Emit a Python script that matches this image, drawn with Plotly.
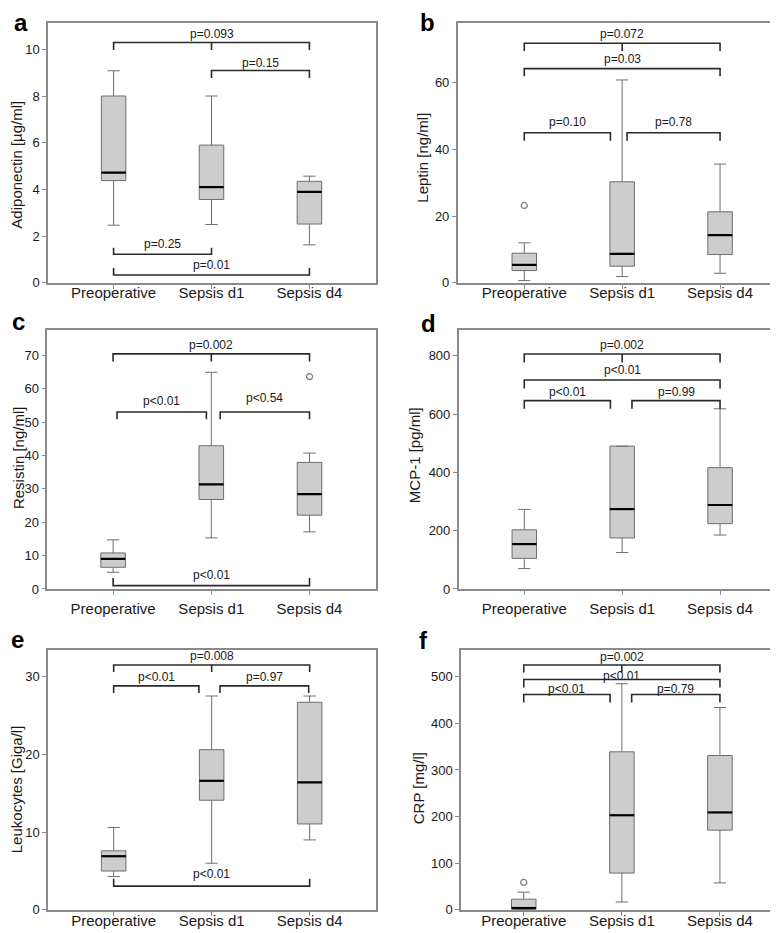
import plotly.graph_objects as go

# ---------------- data ----------------
categories = ["Preoperative", "Sepsis d1", "Sepsis d4"]
xpos = [0, 1, 2]

# Adiponectin [µg/ml]
adipo_low = [2.47, 2.50, 1.63]
adipo_q1 = [4.38, 3.57, 2.52]
adipo_med = [4.72, 4.10, 3.90]
adipo_q3 = [8.00, 5.90, 4.35]
adipo_high = [9.08, 8.00, 4.57]
adipo_out_x = []
adipo_out_y = []

# Leptin [ng/ml]
leptin_low = [0.7, 1.9, 2.9]
leptin_q1 = [3.7, 5.0, 8.5]
leptin_med = [5.4, 8.7, 14.3]
leptin_q3 = [8.9, 30.3, 21.3]
leptin_high = [12.0, 60.8, 35.6]
leptin_out_x = [0]
leptin_out_y = [23.2]

# Resistin [ng/ml]
resistin_low = [5.0, 15.3, 17.1]
resistin_q1 = [6.5, 26.8, 22.1]
resistin_med = [9.0, 31.3, 28.4]
resistin_q3 = [10.8, 42.9, 37.9]
resistin_high = [14.7, 64.9, 40.7]
resistin_out_x = [2]
resistin_out_y = [63.6]

# MCP-1 [pg/ml]
mcp_low = [70, 125, 185]
mcp_q1 = [105, 175, 224]
mcp_med = [154, 274, 288]
mcp_q3 = [203, 490, 416]
mcp_high = [273, 490, 618]
mcp_out_x = []
mcp_out_y = []

# Leukocytes [Giga/l]
leuko_low = [4.3, 6.0, 9.0]
leuko_q1 = [5.0, 14.1, 11.05]
leuko_med = [6.9, 16.6, 16.4]
leuko_q3 = [7.6, 20.6, 26.7]
leuko_high = [10.6, 27.5, 27.5]
leuko_out_x = []
leuko_out_y = []

# CRP [mg/l]
crp_low = [0.0, 17, 58]
crp_q1 = [1.4, 79, 171]
crp_med = [4.0, 203, 209]
crp_q3 = [23, 339, 331]
crp_high = [38, 485, 434]
crp_out_x = [0]
crp_out_y = [59]

# brackets: (x start, x end, line y, tip y, centre tick, label, label y)
adipo_brackets = [
    (0, 2, 10.29, 9.97, True, "p=0.093", 10.66),
    (1, 2, 9.09, 8.77, False, "p=0.15", 9.42),
    (0, 1, 1.23, 1.51, False, "p=0.25", 1.66),
    (0, 2, 0.34, 0.64, False, "p=0.01", 0.77),
]
leptin_brackets = [
    (0, 2, 71.8, 69.5, True, "p=0.072", 74.6),
    (0, 2, 64.2, 61.9, False, "p=0.03", 67.2),
    (0, 0.88, 45.0, 42.6, False, "p=0.10", 48.2),
    (1.05, 2, 45.0, 42.6, False, "p=0.78", 48.2),
]
resistin_brackets = [
    (0, 2, 70.4, 68.1, True, "p=0.002", 73.1),
    (0.04, 0.95, 53.0, 50.8, False, "p<0.01", 56.2),
    (1.09, 2, 53.0, 50.8, False, "p<0.54", 57.2),
    (0, 2, 1.0, 3.3, False, "p<0.01", 4.3),
]
mcp_brackets = [
    (0, 2, 806, 777, True, "p=0.002", 836),
    (0, 2, 717, 688, False, "p<0.01", 751),
    (0, 0.88, 646, 618, False, "p<0.01", 674),
    (1.10, 2, 646, 618, False, "p=0.99", 674),
]
leuko_brackets = [
    (0, 2, 31.5, 30.6, True, "p=0.008", 32.6),
    (0, 0.87, 28.8, 27.9, False, "p<0.01", 30.0),
    (1.085, 1.99, 28.8, 27.9, False, "p=0.97", 30.0),
    (0, 2, 3.06, 4.0, False, "p<0.01", 4.6),
]
crp_brackets = [
    (0, 2, 525, 509, True, "p=0.002", 542),
    (0, 2, 494, 477, False, "p<0.01", 501),
    (0, 0.88, 462, 445, False, "p<0.01", 474),
    (1.10, 2, 462, 445, False, "p=0.79", 474),
]

panel_letters = ["a", "b", "c", "d", "e", "f"]
y_titles = ["Adiponectin [µg/ml]", "Leptin [ng/ml]", "Resistin [ng/ml]",
            "MCP-1 [pg/ml]", "Leukocytes [Giga/l]", "CRP [mg/l]"]
y_max = [11.13, 77.9, 77.7, 890, 33.4, 557]
y_dtick = [2, 20, 10, 200, 10, 100]

# ---------------- layout geometry (pixels) ----------------
W, H = 778, 933
# plot box: left, right, top, bottom
boxes_px = [
    (40, 368, 15, 277.3),
    (449.7, 774.7, 15, 277.3),
    (39.3, 368.3, 324.3, 586),
    (450.7, 774.7, 324.3, 586),
    (40, 368.3, 647.7, 909.7),
    (453, 774.7, 647.7, 909.7),
]
x_ranges = [(-0.67, 2.68), (-0.68, 2.64), (-0.67, 2.68),
            (-0.67, 2.64), (-0.67, 2.68), (-0.64, 2.64)]
title_pos_px = [(9, 158), (415, 151), (10, 454), (406, 451), (8, 788), (410, 787)]
letter_pos_px = [(13, 15), (419, 15), (10, 316), (420, 318), (9, 637), (416, 638)]
label_standoff = [-9, -9, 1, 1, -8, -8]

panels = [
    (adipo_low, adipo_q1, adipo_med, adipo_q3, adipo_high, adipo_out_x, adipo_out_y, adipo_brackets),
    (leptin_low, leptin_q1, leptin_med, leptin_q3, leptin_high, leptin_out_x, leptin_out_y, leptin_brackets),
    (resistin_low, resistin_q1, resistin_med, resistin_q3, resistin_high, resistin_out_x, resistin_out_y, resistin_brackets),
    (mcp_low, mcp_q1, mcp_med, mcp_q3, mcp_high, mcp_out_x, mcp_out_y, mcp_brackets),
    (leuko_low, leuko_q1, leuko_med, leuko_q3, leuko_high, leuko_out_x, leuko_out_y, leuko_brackets),
    (crp_low, crp_q1, crp_med, crp_q3, crp_high, crp_out_x, crp_out_y, crp_brackets),
]

FONT = "Liberation Sans, Arial, sans-serif"
TXT = "#1a1a1a"
FRAME = "#8a8a8a"
BOX_W = 0.25

fig = go.Figure()
annotations = []
layout_axes = {}

for i, (lo, q1, med, q3, hi, ox, oy, brackets) in enumerate(panels):
    n = i + 1
    xa = "x" if n == 1 else f"x{n}"
    ya = "y" if n == 1 else f"y{n}"
    l, r, t, b = boxes_px[i]

    fig.add_trace(go.Box(
        x=xpos, q1=q1, median=med, q3=q3, lowerfence=lo, upperfence=hi,
        width=BOX_W, whiskerwidth=0.5, boxpoints=False,
        fillcolor="#cdcdcd", line=dict(color="#6e6e6e", width=1),
        xaxis=xa, yaxis=ya, showlegend=False, hoverinfo="skip"))

    # thick black median lines
    mx, my = [], []
    for xv, mv in zip(xpos, med):
        mx += [xv - BOX_W / 2, xv + BOX_W / 2, None]
        my += [mv, mv, None]
    fig.add_trace(go.Scatter(x=mx, y=my, mode="lines",
                             line=dict(color="#000000", width=2.2),
                             xaxis=xa, yaxis=ya, showlegend=False, hoverinfo="skip"))

    if ox:
        fig.add_trace(go.Scatter(x=ox, y=oy, mode="markers",
                                 marker=dict(symbol="circle-open", size=6,
                                             color="#777777", line=dict(width=1.2)),
                                 xaxis=xa, yaxis=ya, showlegend=False, hoverinfo="skip"))

    # significance brackets
    bx, by = [], []
    for (x0, x1, yl, yt, ctick, label, ty) in brackets:
        bx += [x0, x0, x1, x1, None]
        by += [yt, yl, yl, yt, None]
        if ctick:
            xm = (x0 + x1) / 2
            bx += [xm, xm, None]
            by += [yl, yt, None]
        annotations.append(dict(
            x=(x0 + x1) / 2, y=ty, xref=xa, yref=ya, text=label, showarrow=False,
            font=dict(family=FONT, size=12, color=TXT), yanchor="middle"))
    fig.add_trace(go.Scatter(x=bx, y=by, mode="lines",
                             line=dict(color="#2a2a2a", width=1.6),
                             xaxis=xa, yaxis=ya, showlegend=False, hoverinfo="skip"))

    xkey = "xaxis" if n == 1 else f"xaxis{n}"
    ykey = "yaxis" if n == 1 else f"yaxis{n}"
    layout_axes[xkey] = dict(
        domain=[l / W, r / W], anchor=ya, range=list(x_ranges[i]),
        tickvals=xpos, ticktext=categories, ticks="outside", ticklen=4,
        tickcolor=FRAME, showline=True, mirror=True, linecolor=FRAME, linewidth=1.5,
        showgrid=False, zeroline=False, ticklabelstandoff=label_standoff[i],
        tickfont=dict(family=FONT, size=15, color=TXT))
    layout_axes[ykey] = dict(
        domain=[1 - b / H, 1 - t / H], anchor=xa, range=[0, y_max[i]],
        tick0=0, dtick=y_dtick[i], ticks="outside", ticklen=4,
        tickcolor=FRAME, showline=True, mirror=True, linecolor=FRAME, linewidth=1.5,
        showgrid=False, zeroline=False,
        tickfont=dict(family=FONT, size=13, color=TXT))

    tx, ty_ = title_pos_px[i]
    annotations.append(dict(
        x=tx / W, y=1 - ty_ / H, xref="paper", yref="paper", text=y_titles[i],
        textangle=-90, showarrow=False, xanchor="center", yanchor="middle",
        font=dict(family=FONT, size=15, color=TXT)))
    lx, ly = letter_pos_px[i]
    annotations.append(dict(
        x=lx / W, y=1 - ly / H, xref="paper", yref="paper", text=f"<b>{panel_letters[i]}</b>",
        showarrow=False, xanchor="center", yanchor="middle",
        font=dict(family=FONT, size=24, color="#000000")))

fig.update_layout(
    width=W, height=H, margin=dict(l=0, r=0, t=0, b=0),
    paper_bgcolor="white", plot_bgcolor="white",
    annotations=annotations, showlegend=False, **layout_axes)

fig.write_html("out.html")
